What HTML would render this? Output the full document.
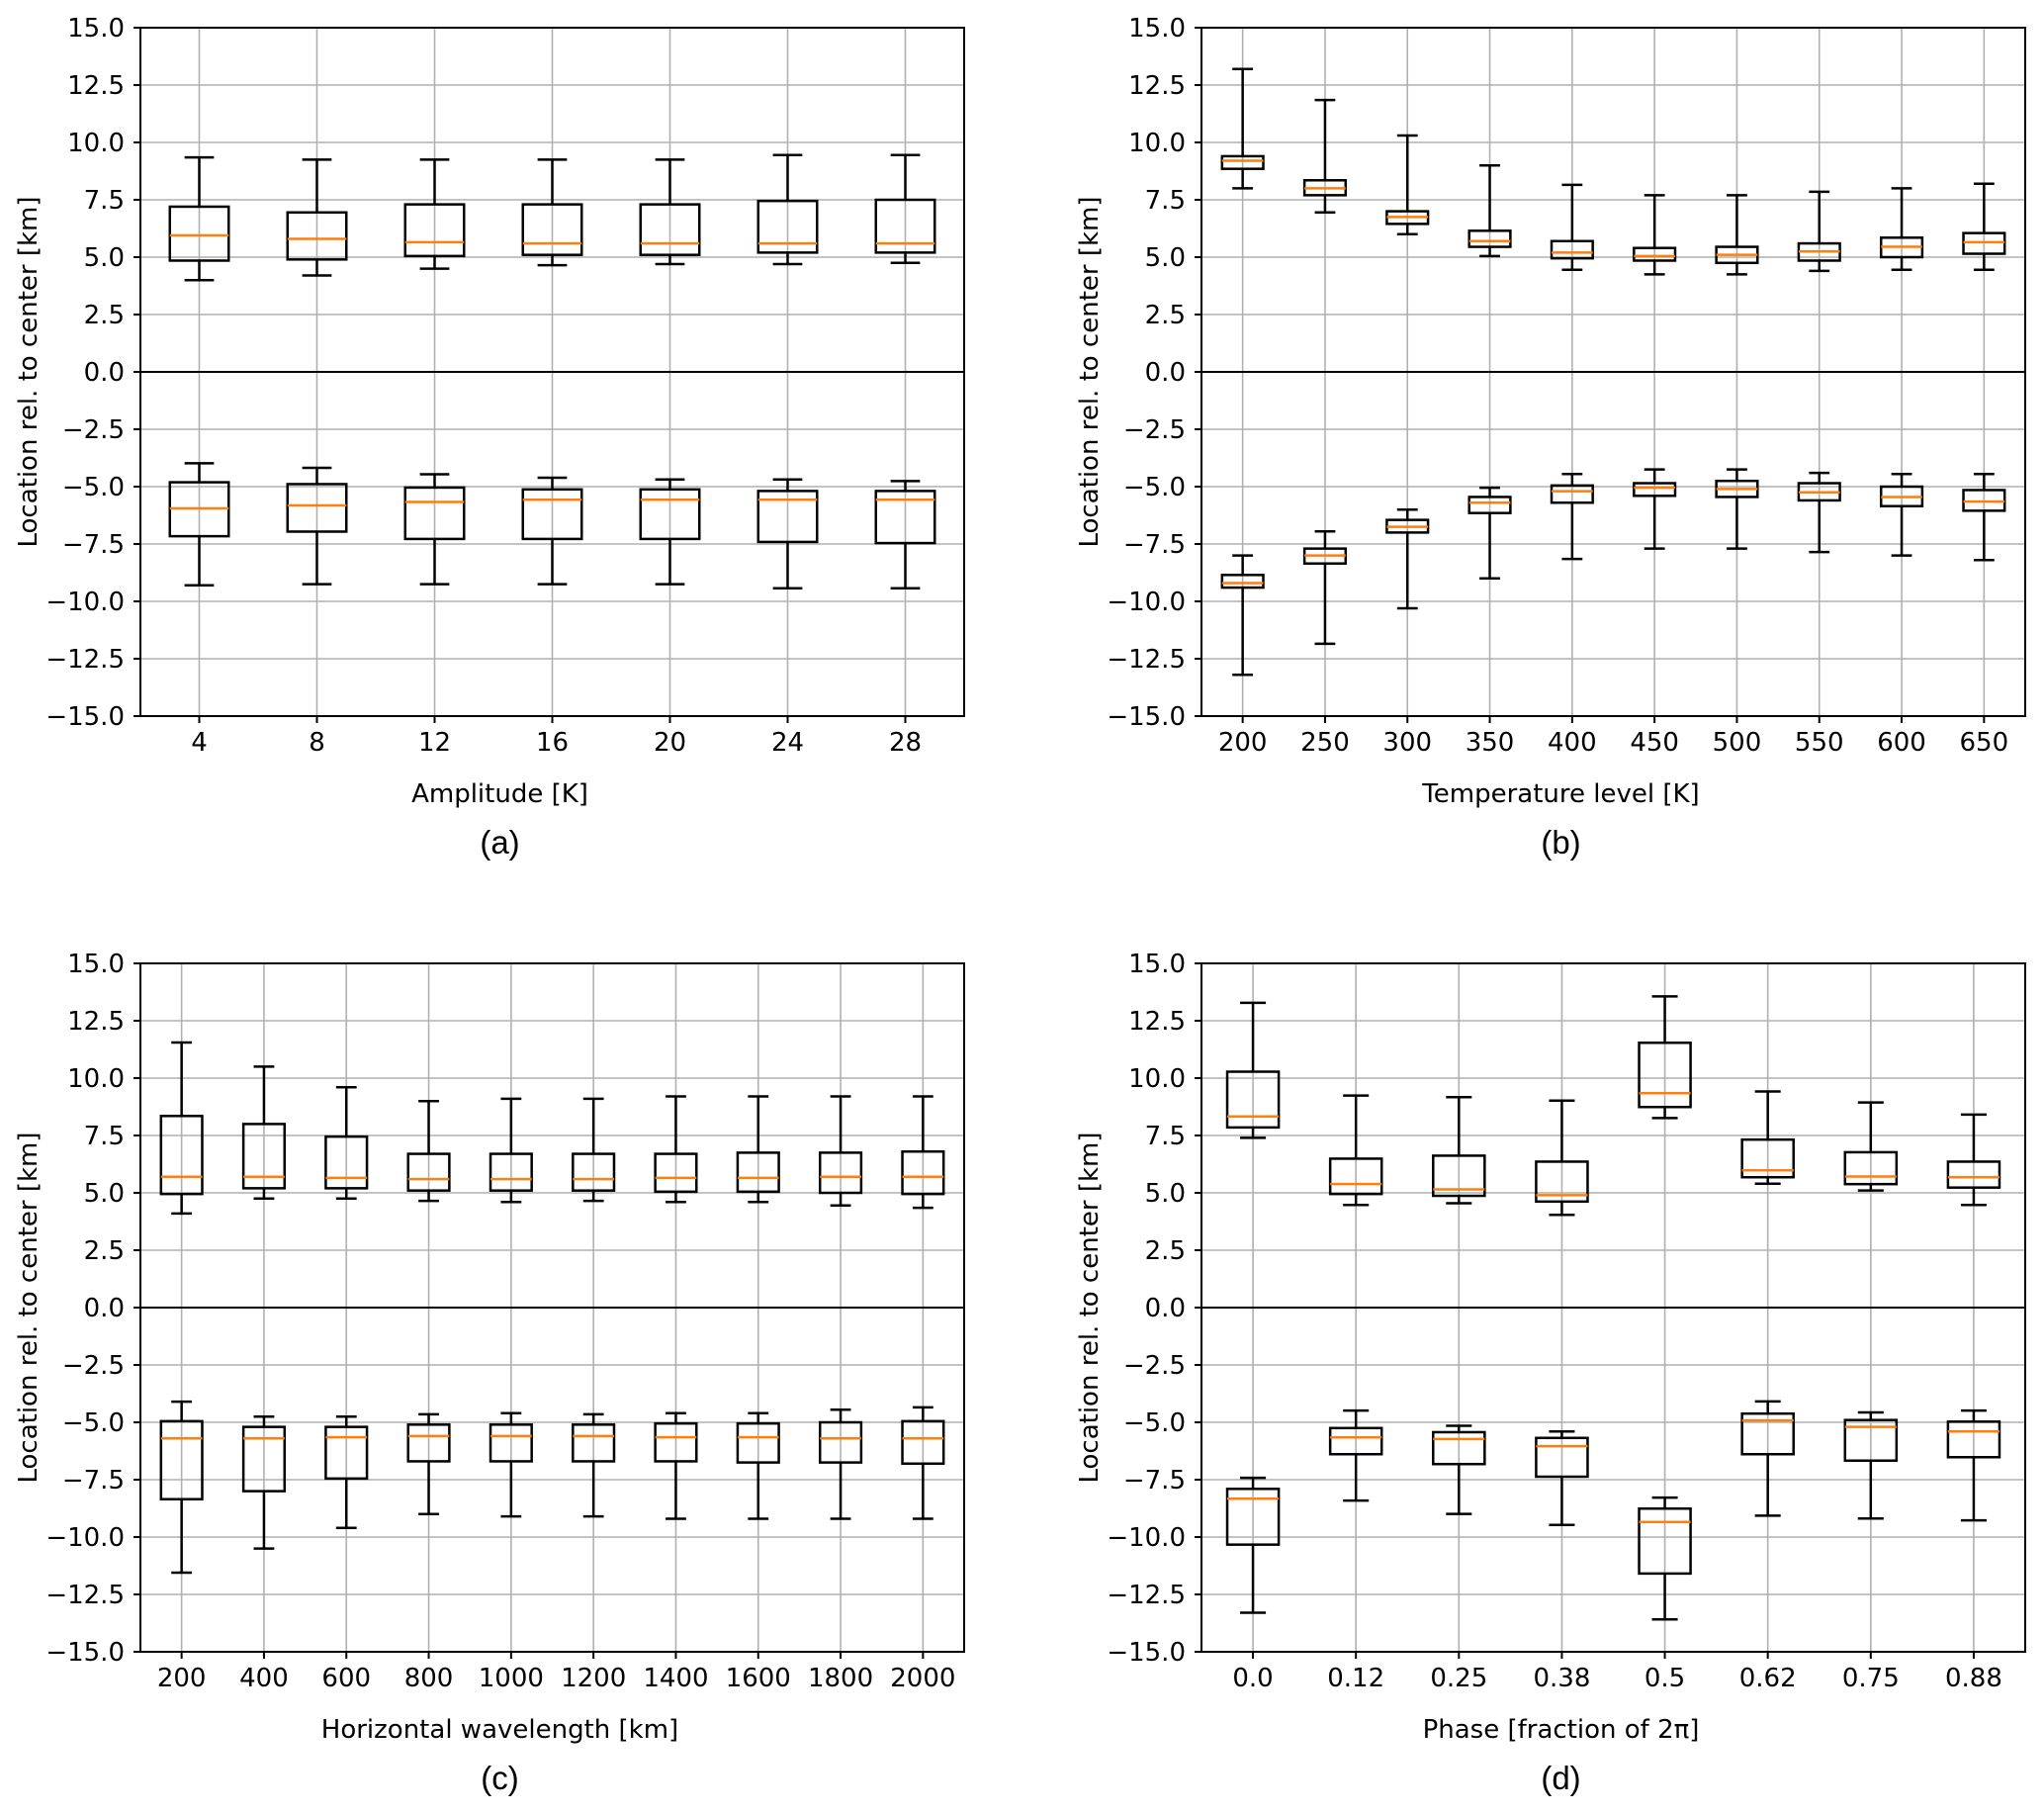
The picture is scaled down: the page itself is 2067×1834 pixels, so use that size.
<!DOCTYPE html>
<html><head><meta charset="utf-8"><style>
html,body{margin:0;padding:0;background:#fff}
svg{display:block}
.tk{font-family:"DejaVu Sans",sans-serif;font-size:26px;fill:#000}
.cap{font-family:"Liberation Sans",sans-serif;font-size:33px;fill:#000}
</style></head><body>
<svg id="fig" width="2067" height="1834" viewBox="0 0 2067 1834" xmlns="http://www.w3.org/2000/svg"></svg>
<script>
// ---- data ----
const catsA = ["4","8","12","16","20","24","28"];
const posA = [[4.0,4.85,5.95,7.2,9.35],[4.2,4.9,5.8,6.95,9.25],[4.5,5.05,5.65,7.3,9.25],[4.65,5.1,5.6,7.3,9.25],[4.7,5.1,5.6,7.3,9.25],[4.7,5.2,5.6,7.45,9.45],[4.75,5.2,5.6,7.5,9.45]];
const negA = [[-3.98,-4.81,-5.95,-7.16,-9.3],[-4.18,-4.89,-5.82,-6.96,-9.25],[-4.46,-5.04,-5.67,-7.28,-9.25],[-4.61,-5.12,-5.57,-7.28,-9.25],[-4.69,-5.12,-5.57,-7.28,-9.25],[-4.69,-5.19,-5.57,-7.41,-9.43],[-4.76,-5.19,-5.57,-7.46,-9.43]];
const catsB = ["200","250","300","350","400","450","500","550","600","650"];
const posB = [[8.0,8.85,9.2,9.4,13.2],[6.95,7.7,8.0,8.35,11.85],[6.0,6.45,6.75,7.0,10.3],[5.05,5.45,5.7,6.15,9.0],[4.45,4.95,5.2,5.7,8.15],[4.25,4.85,5.05,5.4,7.7],[4.25,4.75,5.1,5.45,7.7],[4.4,4.85,5.25,5.6,7.85],[4.45,5.0,5.45,5.85,8.0],[4.45,5.15,5.65,6.05,8.2]];
const negB = [[-8.0,-8.85,-9.2,-9.4,-13.2],[-6.95,-7.7,-8.0,-8.35,-11.85],[-6.0,-6.45,-6.75,-7.0,-10.3],[-5.05,-5.45,-5.7,-6.15,-9.0],[-4.45,-4.95,-5.2,-5.7,-8.15],[-4.25,-4.85,-5.05,-5.4,-7.7],[-4.25,-4.75,-5.1,-5.45,-7.7],[-4.4,-4.85,-5.25,-5.6,-7.85],[-4.45,-5.0,-5.45,-5.85,-8.0],[-4.45,-5.15,-5.65,-6.05,-8.2]];
const catsC = ["200","400","600","800","1000","1200","1400","1600","1800","2000"];
const posC = [[4.1,4.95,5.7,8.35,11.55],[4.75,5.2,5.7,8.0,10.5],[4.75,5.2,5.65,7.45,9.6],[4.65,5.1,5.6,6.7,9.0],[4.6,5.1,5.6,6.7,9.1],[4.65,5.1,5.6,6.7,9.1],[4.6,5.05,5.65,6.7,9.2],[4.6,5.05,5.65,6.75,9.2],[4.45,5.0,5.7,6.75,9.2],[4.35,4.95,5.7,6.8,9.2]];
const negC = [[-4.1,-4.95,-5.7,-8.35,-11.55],[-4.75,-5.2,-5.7,-8.0,-10.5],[-4.75,-5.2,-5.65,-7.45,-9.6],[-4.65,-5.1,-5.6,-6.7,-9.0],[-4.6,-5.1,-5.6,-6.7,-9.1],[-4.65,-5.1,-5.6,-6.7,-9.1],[-4.6,-5.05,-5.65,-6.7,-9.2],[-4.6,-5.05,-5.65,-6.75,-9.2],[-4.45,-5.0,-5.7,-6.75,-9.2],[-4.35,-4.95,-5.7,-6.8,-9.2]];
const catsD = ["0.0","0.12","0.25","0.38","0.5","0.62","0.75","0.88"];
const posD = [[7.4,7.85,8.33,10.28,13.28],[4.47,4.95,5.38,6.49,9.24],[4.55,4.87,5.15,6.62,9.17],[4.04,4.62,4.9,6.36,9.02],[8.26,8.74,9.34,11.54,13.56],[5.4,5.68,5.98,7.32,9.42],[5.1,5.38,5.71,6.77,8.94],[4.47,5.23,5.68,6.36,8.41]];
const negD = [[-7.42,-7.9,-8.33,-10.33,-13.3],[-4.49,-5.25,-5.66,-6.39,-8.41],[-5.15,-5.43,-5.73,-6.82,-8.99],[-5.4,-5.68,-6.04,-7.37,-9.47],[-8.28,-8.76,-9.34,-11.59,-13.59],[-4.09,-4.62,-4.92,-6.39,-9.07],[-4.57,-4.9,-5.2,-6.67,-9.19],[-4.49,-4.97,-5.4,-6.52,-9.27]];
const yTicks = [15,12.5,10,7.5,5,2.5,0,-2.5,-5,-7.5,-10,-12.5,-15];

const NS="http://www.w3.org/2000/svg";
const svg=document.getElementById('fig');
function mk(tag,attrs,parent){const e=document.createElementNS(NS,tag);for(const k in attrs)e.setAttribute(k,attrs[k]);(parent||svg).appendChild(e);return e;}
function fmt(v){let s=v.toFixed(1);return v<0?'\u2212'+s.slice(1):s;}

function panel(id,L,T,cats,pos,neg,xlabel,caption){
  const W=833,H=696,R=L+W,B=T+H;
  const g=mk('g',{});
  
  
  const n=cats.length;
  const xs=i=>L+(i+0.5)*W/n;
  const ys=v=>T+(15-v)/30*H;
  const bw=0.5*W/n;
  cats.forEach((c,i)=>{const l=mk('line',{x1:xs(i),x2:xs(i),y1:T,y2:B,stroke:'#b0b0b0','stroke-width':1.6},g);
    
    });
  yTicks.forEach(v=>{const l=mk('line',{x1:L,x2:R,y1:ys(v),y2:ys(v),stroke:'#b0b0b0','stroke-width':1.6},g);
    
    });
  const z=mk('line',{x1:L,x2:R,y1:ys(0),y2:ys(0),stroke:'#000','stroke-width':2},g);
  
  
  function box(d,i,name){
    const bg=mk('g',{},g);
    
    
    const x=xs(i);
    mk('line',{x1:x,x2:x,y1:ys(d[0]),y2:ys(d[1]),stroke:'#000','stroke-width':2.5},bg);
    mk('line',{x1:x,x2:x,y1:ys(d[3]),y2:ys(d[4]),stroke:'#000','stroke-width':2.5},bg);
    mk('line',{x1:x-bw/4,x2:x+bw/4,y1:ys(d[0]),y2:ys(d[0]),stroke:'#000','stroke-width':2.5},bg);
    mk('line',{x1:x-bw/4,x2:x+bw/4,y1:ys(d[4]),y2:ys(d[4]),stroke:'#000','stroke-width':2.5},bg);
    const y1=Math.min(ys(d[1]),ys(d[3])),y2=Math.max(ys(d[1]),ys(d[3]));
    mk('rect',{x:x-bw/2,y:y1,width:bw,height:y2-y1,fill:'none',stroke:'#000','stroke-width':2.5},bg);
    mk('line',{x1:x-bw/2,x2:x+bw/2,y1:ys(d[2]),y2:ys(d[2]),stroke:'#ff7f0e','stroke-width':2.5},bg);
  }
  pos.forEach((d,i)=>box(d,i,'box-upper-'+cats[i]));
  neg.forEach((d,i)=>box(d,i,'box-lower-'+cats[i]));
  const fr=mk('rect',{x:L,y:T,width:W,height:H,fill:'none',stroke:'#000','stroke-width':2},g);
  
  
  yTicks.forEach(v=>{mk('line',{x1:L-7,x2:L,y1:ys(v),y2:ys(v),stroke:'#000','stroke-width':2},g);
    const t=mk('text',{x:L-16,y:ys(v)+9,'text-anchor':'end',class:'tk'},g);t.textContent=fmt(v);
    
    });
  cats.forEach((c,i)=>{mk('line',{x1:xs(i),x2:xs(i),y1:B,y2:B+7,stroke:'#000','stroke-width':2},g);
    const t=mk('text',{x:xs(i),y:B+35,'text-anchor':'middle',class:'tk'},g);t.textContent=c;
    
    });
  const cx=L+W/2-53;
  const xl=mk('text',{x:cx,y:B+87,'text-anchor':'middle',class:'tk'},g);xl.textContent=xlabel;
  
  
  const yx=L-113,yy=T+H/2;
  const yl=mk('text',{x:yx,y:yy,'text-anchor':'middle',class:'tk',transform:'rotate(-90 '+yx+' '+yy+')','dominant-baseline':'central'},g);
  yl.textContent='Location rel. to center [km]';
  
  
  const cp=mk('text',{x:cx,y:B+139,'text-anchor':'middle',class:'cap'},g);cp.textContent=caption;
  
  
}
panel('a',142,28,catsA,posA,negA,'Amplitude [K]','(a)');
panel('b',1215,28,catsB,posB,negB,'Temperature level [K]','(b)');
panel('c',142,974,catsC,posC,negC,'Horizontal wavelength [km]','(c)');
panel('d',1215,974,catsD,posD,negD,'Phase [fraction of 2\u03c0]','(d)');
</script>
</body></html>
